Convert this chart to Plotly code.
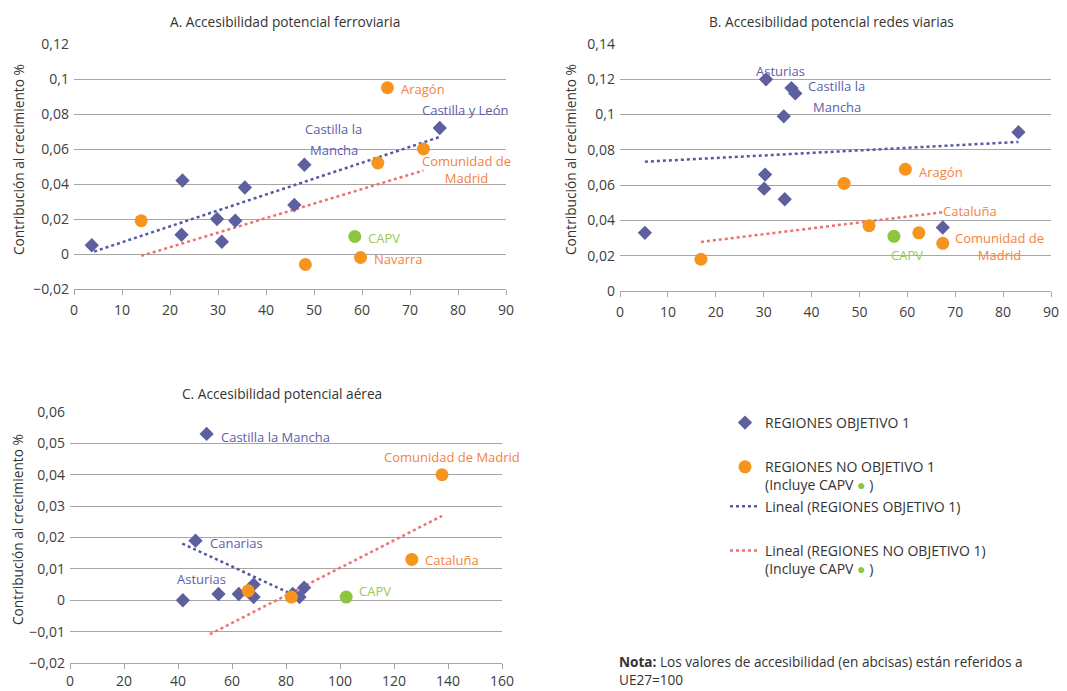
import numpy as np
import plotly.graph_objects as go

# ---- A. Accesibilidad potencial ferroviaria ----
a_obj_x = [3.7, 22.6, 22.4, 29.8, 30.8, 33.6, 35.6, 45.9, 48.0, 76.2]
a_obj_y = [0.005, 0.042, 0.011, 0.020, 0.007, 0.019, 0.038, 0.028, 0.051, 0.072]
a_no_x = [14.0, 48.2, 59.7, 63.3, 65.3, 72.8]
a_no_y = [0.019, -0.006, -0.002, 0.052, 0.095, 0.060]
a_capv_x = [58.5]
a_capv_y = [0.010]
a_trend_obj_x = [4.2, 76.2]
a_trend_no_x = [14.0, 72.8]

# ---- B. Accesibilidad potencial redes viarias ----
b_obj_x = [5.2, 30.5, 35.8, 36.6, 34.2, 30.3, 30.1, 34.4, 67.4, 83.2]
b_obj_y = [0.033, 0.120, 0.115, 0.112, 0.099, 0.066, 0.058, 0.052, 0.036, 0.090]
b_no_x = [16.9, 46.8, 52.0, 59.6, 62.4, 67.4]
b_no_y = [0.018, 0.061, 0.037, 0.069, 0.033, 0.027]
b_capv_x = [57.2]
b_capv_y = [0.031]
b_trend_obj_x = [5.2, 83.2]
b_trend_no_x = [16.9, 67.4]

# ---- C. Accesibilidad potencial aérea ----
c_obj_x = [50.6, 46.5, 41.8, 55.0, 62.5, 68.0, 68.0, 82.5, 85.0, 86.7]
c_obj_y = [0.053, 0.019, 0.000, 0.002, 0.002, 0.005, 0.001, 0.002, 0.001, 0.004]
c_no_x = [66.0, 82.0, 126.6, 137.8]
c_no_y = [0.003, 0.001, 0.013, 0.040]
c_capv_x = [102.3]
c_capv_y = [0.001]
c_trend_obj_x = [41.6, 83.3]
c_trend_no_x = [51.8, 137.8]

# region labels: (text, x, y, colour key, xanchor)
a_labels = [
    ("Aragón", 67.8, 0.094, "no", "left"),
    ("Castilla y León", 81.5, 0.082, "obj", "center"),
    ("Castilla la", 54.0, 0.0716, "obj", "center"),
    ("Mancha", 54.1, 0.0596, "obj", "center"),
    ("Comunidad de<br>Madrid", 81.7, 0.0480, "no", "center"),
    ("CAPV", 60.9, 0.0089, "capv", "left"),
    ("Navarra", 62.1, -0.0029, "no", "left"),
]
b_labels = [
    ("Asturias", 33.6, 0.1249, "obj", "center"),
    ("Castilla la", 45.3, 0.1163, "obj", "center"),
    ("Mancha", 45.3, 0.1044, "obj", "center"),
    ("Aragón", 62.0, 0.0675, "no", "left"),
    ("Cataluña", 67.0, 0.0454, "no", "left"),
    ("Comunidad de<br>Madrid", 79.2, 0.0251, "no", "center"),
    ("CAPV", 60.0, 0.0203, "capv", "center"),
]
c_labels = [
    ("Castilla la Mancha", 55.0, 0.0521, "obj", "left"),
    ("Comunidad de Madrid", 141.4, 0.0455, "no", "center"),
    ("Canarias", 51.0, 0.0184, "obj", "left"),
    ("Cataluña", 130.7, 0.0127, "no", "left"),
    ("Asturias", 48.7, 0.0067, "obj", "center"),
    ("CAPV", 106.2, 0.0030, "capv", "left"),
]

FONT = "Open Sans, Noto Sans, sans-serif"
C_OBJ = "#5d5f9f"
C_NO = "#f7941d"
C_CAPV = "#8cc63f"
C_TR_OBJ = "#5459a3"
C_TR_NO = "#f07070"
TXT = {"obj": "#5c60aa", "no": "#f5823e", "capv": "#98ca55"}
GRID = "#a6a6a6"
TICK = "#404040"
DARK = "#333333"

W, H = 1067, 691


def px_x(p):
    return p / W


def px_y(p):
    return 1 - p / H


fig = go.Figure()

panels = [
    ("x", "y", a_obj_x, a_obj_y, a_no_x, a_no_y, a_capv_x, a_capv_y, a_trend_obj_x, a_trend_no_x, a_labels),
    ("x2", "y2", b_obj_x, b_obj_y, b_no_x, b_no_y, b_capv_x, b_capv_y, b_trend_obj_x, b_trend_no_x, b_labels),
    ("x3", "y3", c_obj_x, c_obj_y, c_no_x, c_no_y, c_capv_x, c_capv_y, c_trend_obj_x, c_trend_no_x, c_labels),
]

CAPV_DOT = f"<span style='color:{C_CAPV}'>●</span>"
annotations = []

for i, (xa, ya, ox, oy, nx, ny, cx, cy, tox, tnx, labels) in enumerate(panels):
    first = i == 0
    # linear trends (least squares); the "no objetivo" fit includes CAPV
    k1, b1 = np.polyfit(ox, oy, 1)
    allx = list(nx) + list(cx)
    ally = list(ny) + list(cy)
    k2, b2 = np.polyfit(allx, ally, 1)
    tox = np.array(tox)
    tnx = np.array(tnx)
    fig.add_trace(go.Scatter(
        x=tox, y=k1 * tox + b1, mode="lines", xaxis=xa, yaxis=ya,
        line=dict(color=C_TR_OBJ, width=2.5, dash="dot"),
        name="Lineal (REGIONES OBJETIVO 1)", showlegend=first,
        legendgroup="g2", legendrank=3, hoverinfo="skip"))
    fig.add_trace(go.Scatter(
        x=tnx, y=k2 * tnx + b2, mode="lines", xaxis=xa, yaxis=ya,
        line=dict(color=C_TR_NO, width=2.5, dash="dot"),
        name=f"Lineal (REGIONES NO OBJETIVO 1)<br>(Incluye CAPV {CAPV_DOT} )",
        showlegend=first, legendgroup="g3", legendrank=4, hoverinfo="skip"))
    fig.add_trace(go.Scatter(
        x=ox, y=oy, mode="markers", xaxis=xa, yaxis=ya,
        marker=dict(symbol="diamond", size=11, color=C_OBJ),
        name="REGIONES OBJETIVO 1", showlegend=first,
        legendgroup="g1", legendrank=1))
    fig.add_trace(go.Scatter(
        x=nx, y=ny, mode="markers", xaxis=xa, yaxis=ya,
        marker=dict(symbol="circle", size=13, color=C_NO),
        name=f"REGIONES NO OBJETIVO 1<br>(Incluye CAPV {CAPV_DOT} )",
        showlegend=first, legendgroup="g2", legendrank=2))
    fig.add_trace(go.Scatter(
        x=cx, y=cy, mode="markers", xaxis=xa, yaxis=ya,
        marker=dict(symbol="circle", size=13, color=C_CAPV),
        name="CAPV", showlegend=False))
    for text, lx, ly, key, anchor in labels:
        annotations.append(dict(
            text=text, x=lx, y=ly, xref=xa, yref=ya, xanchor=anchor,
            yanchor="middle", showarrow=False, align="center",
            font=dict(family=FONT, size=13, color=TXT[key])))

# panel titles
for text, cx_, cy_ in [
    ("A. Accesibilidad potencial ferroviaria", 284.5, 22),
    ("B. Accesibilidad potencial redes viarias", 831, 22),
    ("C. Accesibilidad potencial aérea", 282, 393),
]:
    annotations.append(dict(text=text, x=px_x(cx_), y=px_y(cy_), xref="paper", yref="paper",
                            xanchor="center", yanchor="middle", showarrow=False,
                            font=dict(family=FONT, size=13.7, color=DARK)))

# y axis titles
for cx_, cy_ in [(18, 160), (570, 160), (17, 530)]:
    annotations.append(dict(text="Contribución al crecimiento %", x=px_x(cx_), y=px_y(cy_),
                            xref="paper", yref="paper", xanchor="center", yanchor="middle",
                            textangle=-90, showarrow=False,
                            font=dict(family=FONT, size=13.7, color=DARK)))

# note
annotations.append(dict(
    text="<b>Nota:</b> Los valores de accesibilidad (en abcisas) están referidos a<br>UE27=100",
    x=px_x(618), y=px_y(690), xref="paper", yref="paper", xanchor="left", yanchor="bottom",
    align="left", showarrow=False, borderpad=0,
    font=dict(family=FONT, size=13.6, color=DARK)))


def xaxis(dom, rng, dtick, anchor, standoff=3):
    return dict(domain=dom, range=rng, dtick=dtick, tick0=0, anchor=anchor,
                showgrid=False, zeroline=False, showline=True, linecolor=GRID, linewidth=1,
                ticks="outside", ticklen=5, tickcolor=GRID, tickwidth=1,
                ticklabelstandoff=standoff,
                tickfont=dict(family=FONT, size=14, color=TICK), fixedrange=True)


def yaxis(dom, rng, dtick, anchor):
    return dict(domain=dom, range=rng, dtick=dtick, tick0=0, anchor=anchor,
                showgrid=True, gridcolor=GRID, gridwidth=1, zeroline=False,
                showline=False, ticks="", ticklabelstandoff=4,
                tickfont=dict(family=FONT, size=14, color=TICK), fixedrange=True)


fig.update_layout(
    width=W, height=H, margin=dict(l=0, r=0, t=0, b=0, autoexpand=False),
    paper_bgcolor="white", plot_bgcolor="white",
    separators=", ",
    font=dict(family=FONT, color=DARK),
    xaxis=xaxis([px_x(74), px_x(506)], [0, 90], 10, "y"),
    yaxis=yaxis([px_y(289), px_y(44)], [-0.02, 0.12], 0.02, "x"),
    xaxis2=xaxis([px_x(620), px_x(1051)], [0, 90], 10, "y2"),
    yaxis2=yaxis([px_y(291), px_y(44)], [0, 0.14], 0.02, "x2"),
    xaxis3=xaxis([px_x(70), px_x(502)], [0, 160], 20, "y3", standoff=0),
    yaxis3=yaxis([px_y(663), px_y(412)], [-0.02, 0.06], 0.01, "x3"),
    annotations=annotations,
    showlegend=True,
    legend=dict(x=px_x(725), y=px_y(407), xanchor="left", yanchor="top",
                traceorder="grouped", tracegroupgap=23, valign="top",
                font=dict(family=FONT, size=14, color=DARK),
                bgcolor="rgba(0,0,0,0)"),
)

fig.write_html("out.html")
